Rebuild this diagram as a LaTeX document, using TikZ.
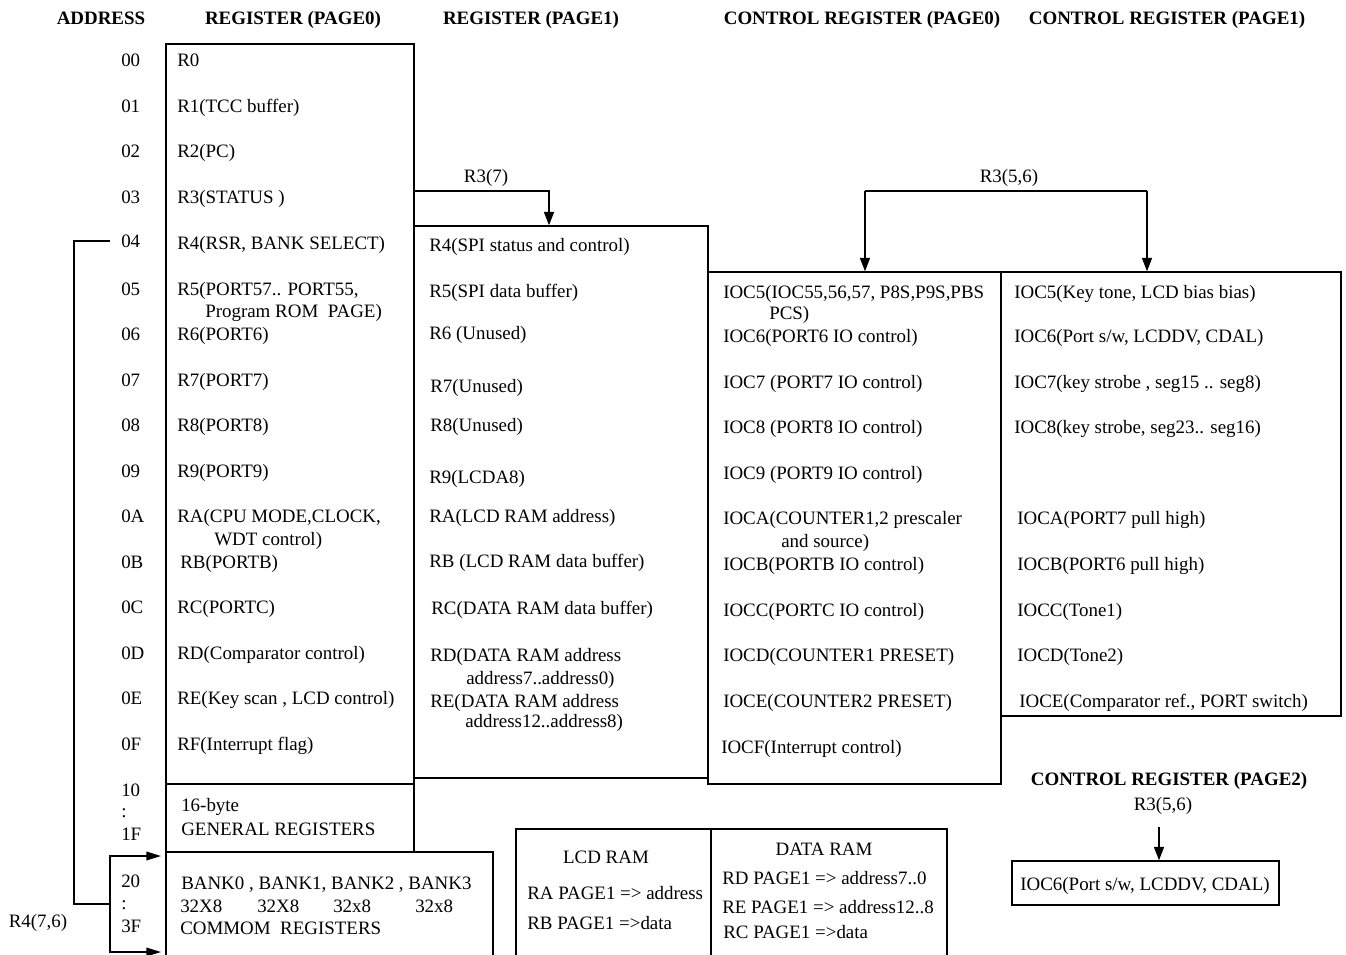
\documentclass[tikz,border=0pt]{standalone}
\usepackage{fontspec}
\setmainfont{Liberation Serif}
\usetikzlibrary{arrows.meta,fit}
\begin{document}
\begin{tikzpicture}[x=0.75pt,y=-0.75pt,
  box/.style={draw,line width=1.1pt,inner sep=0pt},
  txt/.style={anchor=base west,inner sep=0pt,yshift=-4.5pt,font=\fontsize{14.2}{17}\selectfont},
  ctxt/.style={anchor=base,inner sep=0pt,yshift=-4.5pt,font=\fontsize{14.2}{17}\selectfont},
  head/.style={anchor=base,inner sep=0pt,yshift=-4.5pt,font=\fontsize{14.2}{17}\selectfont\bfseries},
  link/.style={line width=1pt},
  tip/.style={-{Triangle[length=10pt,width=7.5pt]}},
  sidetip/.style={-{Triangle[length=11pt,width=6.5pt]}}
]
\clip (0,0) rectangle (1346,954);
\fill[white] (0,0) rectangle (1346,954);

% ---- column headers ----
\node[head] (hAddr) at (101,18) {ADDRESS};
\node[head] (hP0) at (293,18) {REGISTER (PAGE0)};
\node[head] (hP1) at (531,18) {REGISTER (PAGE1)};
\node[head] (hC0) at (862,18) {CONTROL REGISTER (PAGE0)};
\node[head] (hC1) at (1167,18) {CONTROL REGISTER (PAGE1)};
\node[head] (hC2) at (1169,779) {CONTROL REGISTER (PAGE2)};

% ---- boxes ----
\node[box,fit={(166,44)(414,784)}] (p0) {};
\node[box,fit={(166,784)(414,852)}] (gen) {};
\node[box,fit={(166,852)(493,990)}] (cm) {};
\node[box,fit={(414,226)(708,778)}] (p1) {};
\node[box,fit={(708,272)(1001,784)}] (c0) {};
\node[box,fit={(1001,272)(1341,716)}] (c1) {};
\node[box,fit={(1012,861)(1279,905)}] (c2) {};
\node[box,fit={(516,829)(711,990)}] (lcd) {};
\node[box,fit={(711,829)(947,990)}] (dram) {};

% ---- addresses ----
\node[txt] (a00) at (121,60) {00};
\node[txt] (a01) at (121,106) {01};
\node[txt] (a02) at (121,151) {02};
\node[txt] (a03) at (121,197) {03};
\node[txt] (a04) at (121,241) {04};
\node[txt] (a05) at (121,289) {05};
\node[txt] (a06) at (121,334) {06};
\node[txt] (a07) at (121,380) {07};
\node[txt] (a08) at (121,425) {08};
\node[txt] (a09) at (121,471) {09};
\node[txt] (a0A) at (121,516) {0A};
\node[txt] (a0B) at (121,562) {0B};
\node[txt] (a0C) at (121,607) {0C};
\node[txt] (a0D) at (121,653) {0D};
\node[txt] (a0E) at (121,698) {0E};
\node[txt] (a0F) at (121,744) {0F};
\node[txt] (a10) at (121,790) {10};
\node[txt] (aC1) at (121,811) {:};
\node[txt] (a1F) at (121,834) {1F};
\node[txt] (a20) at (121,881) {20};
\node[txt] (aC2) at (121,903) {:};
\node[txt] (a3F) at (121,926) {3F};

% ---- register page 0 ----
\node[txt] (r0) at (177,60) {R0};
\node[txt] (r1) at (177,106) {R1(TCC buffer)};
\node[txt] (r2) at (177,151) {R2(PC)};
\node[txt] (r3) at (177,197) {R3(STATUS )};
\node[txt] (r4) at (177,243) {R4(RSR, BANK SELECT)};
\node[txt] (r5) at (177,289) {R5(PORT57.. PORT55,};
\node[txt] (r5b) at (205,311) {Program ROM\ \ PAGE)};
\node[txt] (r6) at (177,334) {R6(PORT6)};
\node[txt] (r7) at (177,380) {R7(PORT7)};
\node[txt] (r8) at (177,425) {R8(PORT8)};
\node[txt] (r9) at (177,471) {R9(PORT9)};
\node[txt] (ra) at (177,516) {RA(CPU MODE,CLOCK,};
\node[txt] (rab) at (214,539) {WDT control)};
\node[txt] (rb) at (180,562) {RB(PORTB)};
\node[txt] (rc) at (177,607) {RC(PORTC)};
\node[txt] (rd) at (177,653) {RD(Comparator control)};
\node[txt] (re) at (177,698) {RE(Key scan , LCD control)};
\node[txt] (rf) at (177,744) {RF(Interrupt flag)};
\node[txt] (g1) at (181,805) {16-byte};
\node[txt] (g2) at (181,829) {GENERAL REGISTERS};
\node[txt] (k1) at (181,883) {BANK0 , BANK1, BANK2 , BANK3};
\node[txt] (k2) at (180,906) {32X8};
\node[txt] (k3) at (257,906) {32X8};
\node[txt] (k4) at (333,906) {32x8};
\node[txt] (k5) at (415,906) {32x8};
\node[txt] (k6) at (180,928) {COMMOM\ \ REGISTERS};

% ---- register page 1 ----
\node[txt] (s4) at (429,245) {R4(SPI status and control)};
\node[txt] (s5) at (429,291) {R5(SPI data buffer)};
\node[txt] (s6) at (429,333) {R6 (Unused)};
\node[txt] (s7) at (430,386) {R7(Unused)};
\node[txt] (s8) at (430,425) {R8(Unused)};
\node[txt] (s9) at (429,477) {R9(LCDA8)};
\node[txt] (sa) at (429,516) {RA(LCD RAM address)};
\node[txt] (sb) at (429,561) {RB (LCD RAM data buffer)};
\node[txt] (sc) at (431,608) {RC(DATA RAM data buffer)};
\node[txt] (sd) at (430,655) {RD(DATA RAM address};
\node[txt] (sdb) at (466,678) {address7..address0)};
\node[txt] (se) at (430,701) {RE(DATA RAM address};
\node[txt] (seb) at (465,721) {address12..address8)};

% ---- control register page 0 ----
\node[txt] (i5) at (723,292) {IOC5(IOC55,56,57, P8S,P9S,PBS};
\node[txt] (i5b) at (769,313) {PCS)};
\node[txt] (i6) at (723,336) {IOC6(PORT6 IO control)};
\node[txt] (i7) at (723,382) {IOC7 (PORT7 IO control)};
\node[txt] (i8) at (723,427) {IOC8 (PORT8 IO control)};
\node[txt] (i9) at (723,473) {IOC9 (PORT9 IO control)};
\node[txt] (ia) at (723,518) {IOCA(COUNTER1,2 prescaler};
\node[txt] (iab) at (781,541) {and source)};
\node[txt] (ib) at (723,564) {IOCB(PORTB IO control)};
\node[txt] (ic) at (723,610) {IOCC(PORTC IO control)};
\node[txt] (id) at (723,655) {IOCD(COUNTER1 PRESET)};
\node[txt] (ie) at (723,701) {IOCE(COUNTER2 PRESET)};
\node[txt] (if) at (721,747) {IOCF(Interrupt control)};

% ---- control register page 1 ----
\node[txt] (j5) at (1014,292) {IOC5(Key tone, LCD bias bias)};
\node[txt] (j6) at (1014,336) {IOC6(Port s/w, LCDDV, CDAL)};
\node[txt] (j7) at (1014,382) {IOC7(key strobe , seg15 .. seg8)};
\node[txt] (j8) at (1014,427) {IOC8(key strobe, seg23.. seg16)};
\node[txt] (ja) at (1017,518) {IOCA(PORT7 pull high)};
\node[txt] (jb) at (1017,564) {IOCB(PORT6 pull high)};
\node[txt] (jc) at (1017,610) {IOCC(Tone1)};
\node[txt] (jd) at (1017,655) {IOCD(Tone2)};
\node[txt] (je) at (1019,701) {IOCE(Comparator ref., PORT switch)};

% ---- control register page 2 ----
\node[ctxt] (q6) at (1145,884) {IOC6(Port s/w, LCDDV, CDAL)};

% ---- LCD / data RAM ----
\node[ctxt] (lt) at (606,857) {LCD RAM};
\node[txt] (l1) at (527,893) {RA PAGE1 => address};
\node[txt] (l2) at (527,923) {RB PAGE1 =>data};
\node[ctxt] (dt) at (824,849) {DATA RAM};
\node[txt] (d1) at (722,878) {RD PAGE1 => address7..0};
\node[txt] (d2) at (722,907) {RE PAGE1 => address12..8};
\node[txt] (d3) at (723,932) {RC PAGE1 =>data};

% ---- bank select labels ----
\node[ctxt] (lR37) at (486,176) {R3(7)};
\node[ctxt] (lR56) at (1009,176) {R3(5,6)};
\node[ctxt] (lR56b) at (1163,804) {R3(5,6)};
\node[ctxt] (lR4) at (38,921) {R4(7,6)};

% R3(7): page 0 -> page 1
\coordinate (b7) at (549,191);
\draw[link,tip] (p0.east |- b7) -- (b7) -- (b7 |- p1.north);

% R3(5,6): control page 0 / page 1
\coordinate (kL) at (865,191);
\coordinate (kR) at (1147,191);
\draw[link] (kL) -- (kR);
\draw[link,tip] (kL) -- (kL |- c0.north);
\draw[link,tip] (kR) -- (kR |- c1.north);

% R3(5,6): control page 2
\coordinate (kQ) at (1159,827);
\draw[link,tip] (kQ) -- (kQ |- c2.north);

% R4(7,6): bank select of the common registers
\coordinate (w04) at (110,241);
\coordinate (wTop) at (74,241);
\coordinate (wBot) at (74,904);
\coordinate (wJ) at (110,904);
\coordinate (wA) at (161,856);
\coordinate (wB) at (161,952);
\draw[link] (w04) -- (wTop) -- (wBot) -- (wJ);
\draw[link,sidetip] (wJ) |- (wA);
\draw[link,sidetip] (wJ) |- (wB);
\end{tikzpicture}
\end{document}
